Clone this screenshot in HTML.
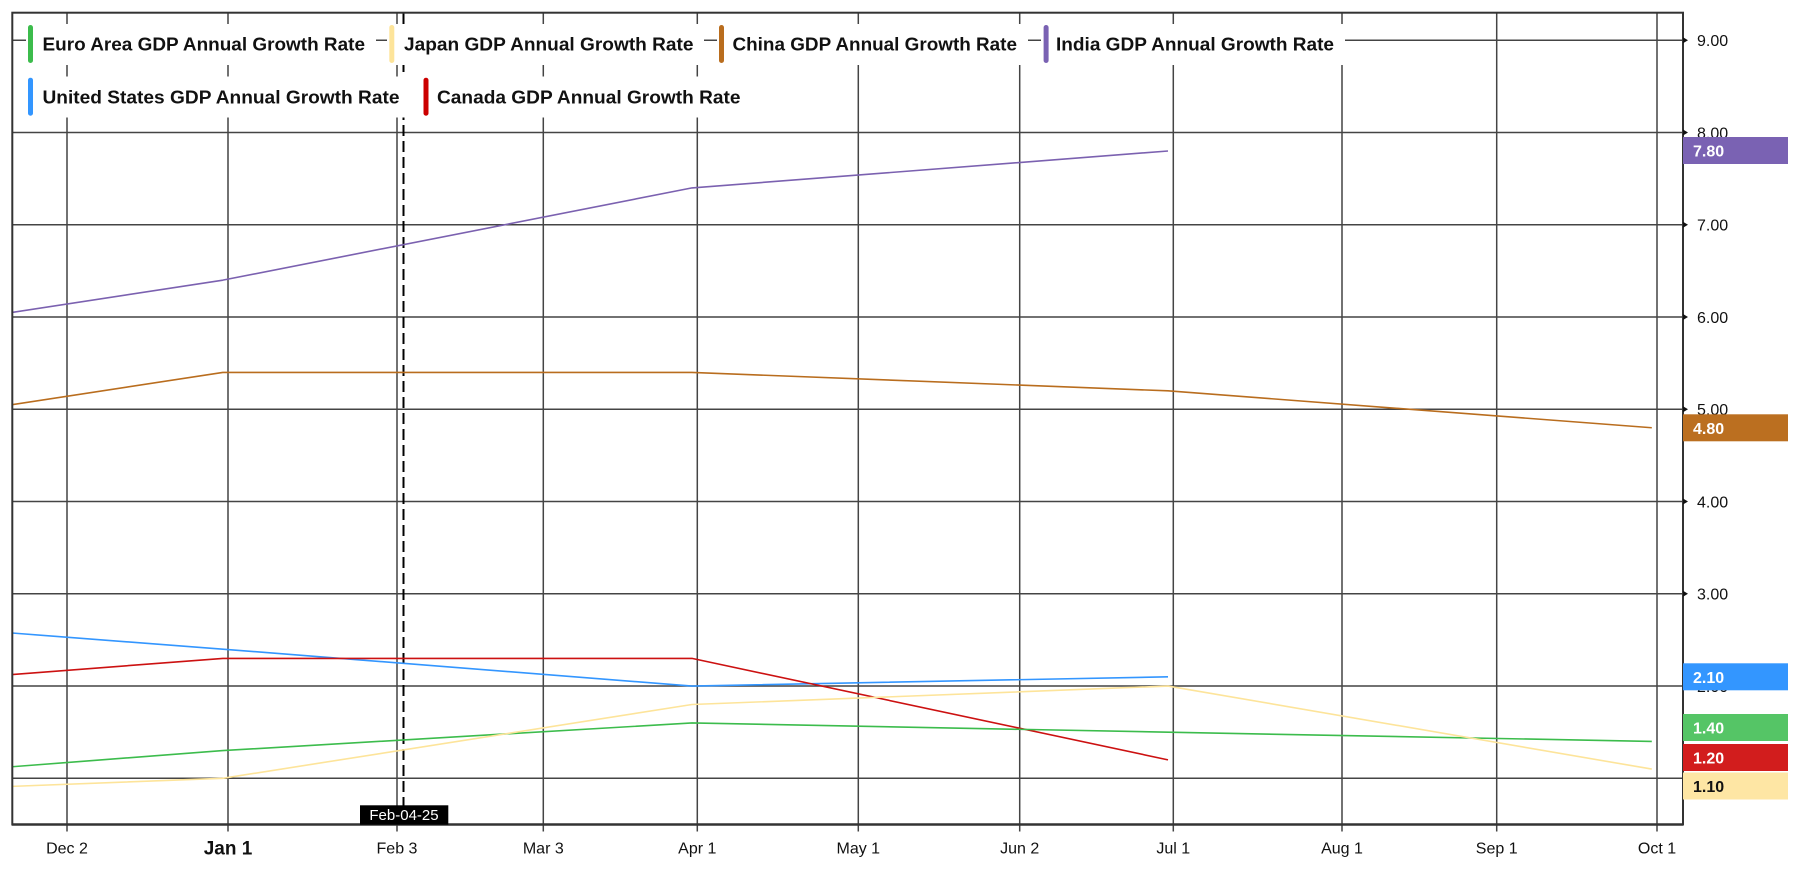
<!DOCTYPE html>
<html><head><meta charset="utf-8"><style>
html,body{margin:0;padding:0;background:#fff;}
svg{display:block;font-family:"Liberation Sans",Arial,sans-serif;}
</style></head><body>
<svg width="1800" height="881" viewBox="0 0 1800 881" xmlns="http://www.w3.org/2000/svg">
<defs><clipPath id="pc"><rect x="12" y="13" width="1671" height="811"/></clipPath></defs>
<rect width="1800" height="881" fill="#fff"/>
<!-- horizontal grid -->
<g stroke="#444" stroke-width="1.5">
<line x1="12" y1="40.3" x2="1683" y2="40.3"/>
<line x1="12" y1="132.55" x2="1683" y2="132.55"/>
<line x1="12" y1="224.8" x2="1683" y2="224.8"/>
<line x1="12" y1="317.05" x2="1683" y2="317.05"/>
<line x1="12" y1="409.3" x2="1683" y2="409.3"/>
<line x1="12" y1="501.55" x2="1683" y2="501.55"/>
<line x1="12" y1="593.8" x2="1683" y2="593.8"/>
<line x1="12" y1="686.05" x2="1683" y2="686.05"/>
<line x1="12" y1="778.3" x2="1683" y2="778.3"/>
</g>
<!-- vertical grid -->
<g stroke="#444" stroke-width="1.5">
<line x1="67" y1="13" x2="67" y2="831.5"/>
<line x1="228" y1="13" x2="228" y2="831.5"/>
<line x1="397" y1="13" x2="397" y2="831.5"/>
<line x1="543.3" y1="13" x2="543.3" y2="831.5"/>
<line x1="697.3" y1="13" x2="697.3" y2="831.5"/>
<line x1="858.3" y1="13" x2="858.3" y2="831.5"/>
<line x1="1019.7" y1="13" x2="1019.7" y2="831.5"/>
<line x1="1173.3" y1="13" x2="1173.3" y2="831.5"/>
<line x1="1342" y1="13" x2="1342" y2="831.5"/>
<line x1="1496.7" y1="13" x2="1496.7" y2="831.5"/>
<line x1="1657" y1="13" x2="1657" y2="831.5"/>
</g>
<!-- dashed marker -->
<line x1="403.5" y1="13" x2="403.5" y2="806" stroke="#000" stroke-width="2" stroke-dasharray="11,5"/>
<!-- series -->
<g clip-path="url(#pc)" fill="none" stroke-width="1.6" stroke-linejoin="round">
<polyline stroke="#7b61b0" points="-259,353.95 222.8,280.15 692,187.9 1168,151.0"/>
<polyline stroke="#b96d1e" points="-259,446.2 222.8,372.4 692,372.4 1168,390.85 1651.8,427.75"/>
<polyline stroke="#3396ff" points="-259,612.25 222.8,649.15 692,686.05 1168,676.8"/>
<polyline stroke="#cc1111" points="-259,695.3 222.8,658.4 692,658.4 1168,759.85"/>
<polyline stroke="#3cbc4c" points="-259,787.5 222.8,750.6 692,722.95 1168,732.2 1651.8,741.4"/>
<polyline stroke="#fde49a" points="-259,796.75 222.8,778.3 692,704.5 1168,686.05 1651.8,769.1"/>
</g>
<!-- frame -->
<rect x="12.3" y="12.7" width="1670.7" height="811.8" fill="none" stroke="#333" stroke-width="2"/>
<line x1="12" y1="824.5" x2="1683" y2="824.5" stroke="#333" stroke-width="2.5"/>
<!-- y tick markers -->
<g fill="#111">
<path d="M1683,37.3 L1688,40.3 L1683,43.3Z"/>
<path d="M1683,129.55 L1688,132.55 L1683,135.55Z"/>
<path d="M1683,221.8 L1688,224.8 L1683,227.8Z"/>
<path d="M1683,314.05 L1688,317.05 L1683,320.05Z"/>
<path d="M1683,406.3 L1688,409.3 L1683,412.3Z"/>
<path d="M1683,498.55 L1688,501.55 L1683,504.55Z"/>
<path d="M1683,590.8 L1688,593.8 L1683,596.8Z"/>
<path d="M1683,683.05 L1688,686.05 L1683,689.05Z"/>
<path d="M1683,775.3 L1688,778.3 L1683,781.3Z"/>
</g>
<!-- y labels -->
<g font-size="16" fill="#111">
<text x="1697" y="46">9.00</text>
<text x="1697" y="138.3">8.00</text>
<text x="1697" y="230.5">7.00</text>
<text x="1697" y="322.8">6.00</text>
<text x="1697" y="415">5.00</text>
<text x="1697" y="507.3">4.00</text>
<text x="1697" y="599.5">3.00</text>
<text x="1697" y="691.8">2.00</text>
<text x="1697" y="784" fill="#bbb">1.00</text>
</g>
<!-- value boxes -->
<g font-size="16" font-weight="bold">
<rect x="1683" y="137" width="105" height="27" fill="#7a62b3"/>
<text x="1693" y="156.5" fill="#fff">7.80</text>
<rect x="1683" y="414.3" width="105" height="27" fill="#bb6f20"/>
<text x="1693" y="433.8" fill="#fff">4.80</text>
<rect x="1683" y="663.3" width="105" height="27" fill="#3396ff"/>
<text x="1693" y="682.8" fill="#fff">2.10</text>
<rect x="1683" y="714" width="105" height="27" fill="#55c566"/>
<text x="1693" y="733.5" fill="#fff">1.40</text>
<rect x="1683" y="744" width="105" height="27" fill="#d21d1d"/>
<text x="1693" y="763.5" fill="#fff">1.20</text>
<rect x="1683" y="772.5" width="105" height="27" fill="#fee6a4"/>
<text x="1693" y="792" fill="#111">1.10</text>
</g>
<!-- x labels -->
<g font-size="16" fill="#111" text-anchor="middle">
<text x="67" y="853.5">Dec 2</text>
<text x="228" y="854.5" font-size="19" font-weight="bold">Jan 1</text>
<text x="397" y="853.5">Feb 3</text>
<text x="543.3" y="853.5">Mar 3</text>
<text x="697.3" y="853.5">Apr 1</text>
<text x="858.3" y="853.5">May 1</text>
<text x="1019.7" y="853.5">Jun 2</text>
<text x="1173.3" y="853.5">Jul 1</text>
<text x="1342" y="853.5">Aug 1</text>
<text x="1496.7" y="853.5">Sep 1</text>
<text x="1657" y="853.5">Oct 1</text>
</g>
<!-- marker label -->
<rect x="360" y="805.3" width="88.3" height="19.4" fill="#000"/>
<text x="404" y="820" font-size="15" fill="#fff" text-anchor="middle">Feb-04-25</text>
<!-- legend -->
<g>
<rect x="26" y="24" width="350" height="41" fill="#fff"/>
<rect x="387" y="24" width="317" height="41" fill="#fff"/>
<rect x="717" y="24" width="311" height="41" fill="#fff"/>
<rect x="1041" y="24" width="304" height="41" fill="#fff"/>
<rect x="26" y="76.5" width="382" height="41" fill="#fff"/>
<rect x="421" y="76.5" width="330" height="41" fill="#fff"/>
<rect x="28" y="25" width="5" height="38" rx="2.5" fill="#3cbc4c"/>
<rect x="389.3" y="25" width="5" height="38" rx="2.5" fill="#fde49a"/>
<rect x="719" y="25" width="5" height="38" rx="2.5" fill="#b96d1e"/>
<rect x="1043.6" y="25" width="5" height="38" rx="2.5" fill="#7a62b3"/>
<rect x="28" y="77.7" width="5" height="38" rx="2.5" fill="#3396ff"/>
<rect x="423.5" y="77.7" width="5" height="38" rx="2.5" fill="#cc0000"/>
<g font-size="18" font-weight="bold" fill="#111">
<text x="42.5" y="50.5" textLength="322.5" lengthAdjust="spacingAndGlyphs">Euro Area GDP Annual Growth Rate</text>
<text x="404" y="50.5" textLength="289.5" lengthAdjust="spacingAndGlyphs">Japan GDP Annual Growth Rate</text>
<text x="732.5" y="50.5" textLength="284.5" lengthAdjust="spacingAndGlyphs">China GDP Annual Growth Rate</text>
<text x="1056" y="50.5" textLength="278" lengthAdjust="spacingAndGlyphs">India GDP Annual Growth Rate</text>
<text x="42.5" y="103.5" textLength="357" lengthAdjust="spacingAndGlyphs">United States GDP Annual Growth Rate</text>
<text x="437" y="103.5" textLength="303.5" lengthAdjust="spacingAndGlyphs">Canada GDP Annual Growth Rate</text>
</g>
</g>
</svg>
</body></html>
